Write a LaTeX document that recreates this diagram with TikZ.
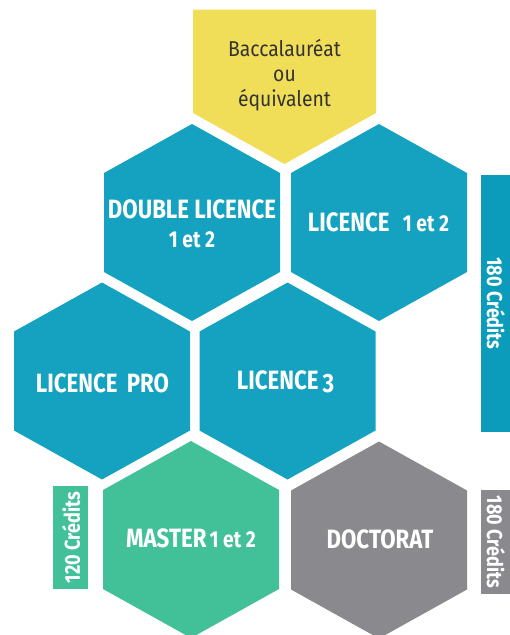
\documentclass[tikz,border=0pt]{standalone}
\usepackage{fontspec}
\setmainfont{Fira Sans}
\newfontfamily\condf[FakeStretch=0.84]{Fira Sans}
\newfontfamily\bacf[FakeStretch=0.9]{Fira Sans}
\definecolor{hexblue}{HTML}{14A2C0}
\definecolor{barblue}{HTML}{0A9CBA}
\definecolor{bacyellow}{HTML}{F0DE58}
\definecolor{mgreen}{HTML}{42C098}
\definecolor{dgray}{HTML}{8A8A8E}
\definecolor{txtdark}{HTML}{333333}
\tikzset{
  hexa/.pic={\path[pic actions] (0,-98.5) -- (88,-49.5) -- (88,49.5) -- (0,98.5) -- (-88,49.5) -- (-88,-49.5) -- cycle;},
  hexlabel/.style={text=white, align=center, font=\condf\bfseries\fontsize{26.5}{29}\selectfont, inner sep=0pt},
  barlabel/.style={text=white, font=\condf\bfseries\fontsize{21.5}{22}\selectfont, inner sep=0pt},
}
\newcommand{\numsz}{\fontsize{23}{29}\selectfont}
\begin{document}
\begin{tikzpicture}[x=1pt,y=-1pt]
\useasboundingbox (0,0) rectangle (510,635);
% baccalaureat
\fill[bacyellow] (193,9.5) -- (376,9.5) -- (376,113) -- (284.5,164) -- (193,113) -- cycle;
\node[text=txtdark, align=center, inner sep=0pt, font=\bacf\fontsize{21.5}{25}\selectfont] (bac) at (284.5,75) {Baccalauréat\\ou\\équivalent};
% hexagons
\pic[fill=hexblue] at (192,222.5) {hexa};
\pic[fill=hexblue] at (379,222.5) {hexa};
\pic[fill=hexblue] at (102,381) {hexa};
\pic[fill=hexblue] at (287.5,381) {hexa};
\pic[fill=mgreen] at (191,539.5) {hexa};
\pic[fill=dgray] at (379,540) {hexa};
\node[hexlabel] (dl) at (192,224) {DOUBLE LICENCE\\{\numsz 1 et 2}};
\node[hexlabel] (l12) at (378.5,222) {LICENCE\hspace{0.5em}{\numsz 1 et 2}};
\node[hexlabel] (lp) at (102.5,383) {LICENCE\hspace{0.35em}PRO};
\node[hexlabel] (l3) at (285.5,382) {LICENCE\hspace{0.15em}\raisebox{-3pt}{3}};
\node[hexlabel] (m) at (191,538) {MASTER\hspace{0.12em}{\numsz 1 et 2}};
\node[hexlabel] (doc) at (380,539) {DOCTORAT};
% bars
\fill[barblue] (481,175) rectangle (510,432);
\fill[mgreen] (53,486) rectangle (88,589);
\fill[dgray] (481,490) rectangle (510,594);
\node[barlabel, rotate=-90] (c1) at (496,303.5) {180 Crédits};
\node[barlabel, rotate=90] (c2) at (71,537.5) {120 Crédits};
\node[barlabel, rotate=-90] (c3) at (496,542) {180 Crédits};
\end{tikzpicture}
\end{document}
